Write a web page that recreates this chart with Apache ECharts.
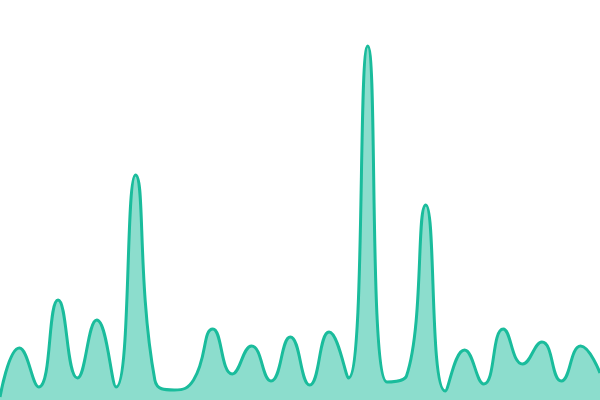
<!DOCTYPE html>
<html>
<head>
<meta charset="utf-8">
<script src="https://cdn.jsdelivr.net/npm/echarts@6/dist/echarts.min.js"></script>
<style>
  html, body { margin: 0; padding: 0; background: #fff; }
  #chart { width: 600px; height: 400px; }
</style>
</head>
<body>
<div id="chart"></div>
<script>
// categories and values
var categories = [];
for (var i = 0; i < 32; i++) { categories.push('P' + (i + 1)); }

var values = [3, 52, 13, 100, 22, 80, 13, 225, 20, 10, 20, 71, 26, 54, 19, 63,
              15, 68, 22, 354, 18, 24, 195, 9, 50, 16, 71, 36, 58, 19, 54, 27];

var chartDom = document.getElementById('chart');
var myChart = echarts.init(chartDom);

var option = {
    animation: false,
    grid: { left: 0, right: 0, top: 0, bottom: 0 },
    xAxis: {
        type: 'category',
        data: categories,
        boundaryGap: false,
        show: false
    },
    yAxis: {
        type: 'value',
        min: 0,
        max: 400,
        show: false
    },
    series: [
        {
            type: 'line',
            data: values,
            smooth: true,
            showSymbol: false,
            lineStyle: { color: '#1abc9c', width: 3 },
            itemStyle: { color: '#1abc9c' },
            areaStyle: { color: '#1abc9c', opacity: 0.5 }
        }
    ]
};

myChart.setOption(option);
</script>
</body>
</html>
